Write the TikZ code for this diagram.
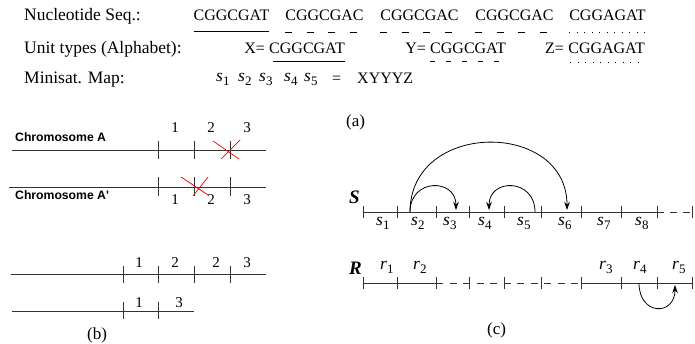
\documentclass[tikz,border=0pt]{standalone}
\usepackage{fontspec}
\setmainfont{Liberation Serif}
\newfontfamily\hsans{Liberation Sans}
\usetikzlibrary{arrows.meta}
\newcommand{\idx}[2]{\textit{#1}\raisebox{-0.55ex}{\fontsize{13}{13}\selectfont #2}}
\begin{document}
\begin{tikzpicture}[x=1pt,y=-1pt,
  txt/.style={inner sep=0pt, anchor=base west, font=\fontsize{17.5}{19}\selectfont},
  caps/.style={inner sep=0pt, anchor=base, font=\fontsize{16}{18}\selectfont},
  num/.style={inner sep=0pt, anchor=base, font=\fontsize{15}{16}\selectfont},
  chrom/.style={inner sep=0pt, anchor=base west, font=\hsans\bfseries\fontsize{12.2}{13}\selectfont},
  lbl/.style={inner sep=0pt, anchor=base west, font=\fontsize{17}{18}\selectfont},
  sym/.style={inner sep=0pt, anchor=base west, font=\bfseries\itshape\fontsize{19}{20}\selectfont},
  seg/.style={line width=0.8pt, draw=black!80},
  cross/.style={red, line width=0.7pt},
  ul/.style={line width=0.7pt},
  longdash/.style={ul, dash pattern=on 7pt off 14.5pt},
  shortdash/.style={ul, dash pattern=on 5pt off 11pt},
  dotl/.style={ul, dash pattern=on 1pt off 6.5pt},
  arr/.style={line width=0.8pt, -{Stealth[length=8pt,width=5.5pt]}}]
\useasboundingbox (0,0) rectangle (695,343);

% ---------- (a) ----------
\node[txt] (l1) at (24,20) {Nucleotide Seq.:};
\node[caps] (q1) at (231.5,20) {CGGCGAT};
\node[caps] (q2) at (324.5,20) {CGGCGAC};
\node[caps] (q3) at (419.5,20) {CGGCGAC};
\node[caps] (q4) at (514.5,20) {CGGCGAC};
\node[caps] (q5) at (607.5,20) {CGGAGAT};
\draw[ul] ([yshift=-11pt]q1.base west) -- ([yshift=-11pt]q1.base east);
\foreach \n in {q2,q3,q4}
  \draw[longdash] ([yshift=-12pt]\n.base west) -- ([yshift=-12pt]\n.base east);
\draw[dotl] ([yshift=-12pt]q5.base west) -- ([yshift=-12pt]q5.base east);

\node[txt] (l2) at (24,53) {Unit types (Alphabet):};
\node[caps, anchor=base east] (xw) at (345,53) {CGGCGAT};
\node[caps, anchor=base east] (xe) at ([xshift=-4pt]xw.base west) {X=};
\node[caps, anchor=base east] (yw) at (506,53) {CGGCGAT};
\node[caps, anchor=base east] (ye) at ([xshift=-4pt]yw.base west) {Y=};
\node[caps, anchor=base east] (zw) at (645,53) {CGGAGAT};
\node[caps, anchor=base east] (ze) at ([xshift=-4pt]zw.base west) {Z=};
\draw[ul] ([xshift=4pt,yshift=-8.5pt]xw.base west) -- ([yshift=-8.5pt]xw.base east);
\draw[shortdash] ([yshift=-8.5pt]yw.base west) -- ([yshift=-8.5pt]yw.base east);
\draw[dotl] ([xshift=2pt,yshift=-9pt]zw.base west) -- ([yshift=-9pt]zw.base east);

\node[txt] (l3) at (24,83) {Minisat. Map:};
\node[txt] (m1) at (216,81) {\idx{s}{1}};
\node[txt] (m2) at (238,81) {\idx{s}{2}};
\node[txt] (m3) at (259,81) {\idx{s}{3}};
\node[txt] (m4) at (284,81) {\idx{s}{4}};
\node[txt] (m5) at (304,81) {\idx{s}{5}};
\node[caps, anchor=base west] (eq) at (332,83) {=};
\node[caps, anchor=base west] (mw) at (357,83) {XYYYZ};

\node[lbl] (capa) at (346,126) {(a)};

% ---------- (b) ----------
\node[chrom] (chA) at (15,141.5) {Chromosome A};
\node[chrom] (chB) at (15,199.5) {Chromosome A'};

\coordinate (b1s) at (12,150);  \coordinate (b1e) at (266,150);
\coordinate (b2s) at (9,187);   \coordinate (b2e) at (266,187);
\coordinate (b3s) at (11,274);  \coordinate (b3e) at (266,274);
\coordinate (b4s) at (12,311);  \coordinate (b4e) at (194,311);
\draw[seg] (b1s) -- (b1e);
\draw[seg] (b2s) -- (b2e);
\draw[seg] (b3s) -- (b3e);
\draw[seg] (b4s) -- (b4e);
\foreach \x in {158,194,230} {
  \draw[seg] (\x,141) -- (\x,159);
  \draw[seg] (\x,177) -- (\x,196);
}
\foreach \x in {123,158,194,230} \draw[seg] (\x,266) -- (\x,283);
\foreach \x in {123,158} \draw[seg] (\x,302) -- (\x,319);

\node[num] (n11) at (175,132) {1};
\node[num] (n12) at (211,132) {2};
\node[num] (n13) at (247,132) {3};
\node[num] (n21) at (175,204) {1};
\node[num] (n22) at (211,204) {2};
\node[num] (n23) at (247,204) {3};
\node[num] (n31) at (139,267) {1};
\node[num] (n32) at (175,267) {2};
\node[num] (n33) at (216,267) {2};
\node[num] (n34) at (247,267) {3};
\node[num] (n41) at (139,307) {1};
\node[num] (n42) at (179,307) {3};

\coordinate (xa1) at (213,141); \coordinate (xa2) at (239,159);
\coordinate (xa3) at (221,159); \coordinate (xa4) at (240,140);
\draw[cross] (xa1) -- (xa2);
\draw[cross] (xa3) -- (xa4);
\coordinate (xb1) at (181,177); \coordinate (xb2) at (208,195);
\coordinate (xb3) at (193,196); \coordinate (xb4) at (208,177);
\draw[cross] (xb1) -- (xb2);
\draw[cross] (xb3) -- (xb4);

\node[lbl] (capb) at (87,339) {(b)};

% ---------- (c) ----------
\node[sym] (Sn) at (349,203) {S};
\node[sym] (Rn) at (349,274) {R};

\foreach \x [count=\i] in {363,397,436,469,504,541,581,621,657,692} {
  \coordinate (S\i) at (\x,212);
  \coordinate (R\i) at (\x,283);
  \draw[seg] (\x,206) -- (\x,218);
  \draw[seg] (\x,277) -- (\x,289);
}
\draw[seg] (S1) -- (S9);
\draw[seg, dash pattern=on 7pt off 6pt] (S9) -- (S10);
\draw[seg] (R1) -- (R3);
\draw[seg, dash pattern=on 7pt off 6.5pt] (R3) -- (R7);
\draw[seg] (R7) -- (R10);

\foreach \x/\t in {376/1,411/2,443/3,478/4,517/5,558/6,597/7,635/8}
  \node[txt] (s\t) at (\x,225) {\idx{s}{\t}};
\foreach \x/\t in {380/1,413/2,599/3,633/4,672/5}
  \node[txt] (r\t) at (\x,269) {\idx{r}{\t}};

\coordinate (a1) at (410,212);
\coordinate (a2) at (456,210);
\coordinate (a3) at (535,212);
\coordinate (a4) at (489,210);
\coordinate (a5) at (567,210);
\draw[arr] (a1) .. controls (410,178) and (456,178) .. (a2);
\draw[arr] (a3) .. controls (535,178) and (489,178) .. (a4);
\draw[arr] (a1) .. controls (410,120) and (567,120) .. (a5);
\coordinate (b1) at (639,283);
\coordinate (b2) at (675,285);
\draw[arr] (b1) .. controls (639,316) and (675,316) .. (b2);

\node[lbl] (capc) at (487,334) {(c)};
\end{tikzpicture}
\end{document}
